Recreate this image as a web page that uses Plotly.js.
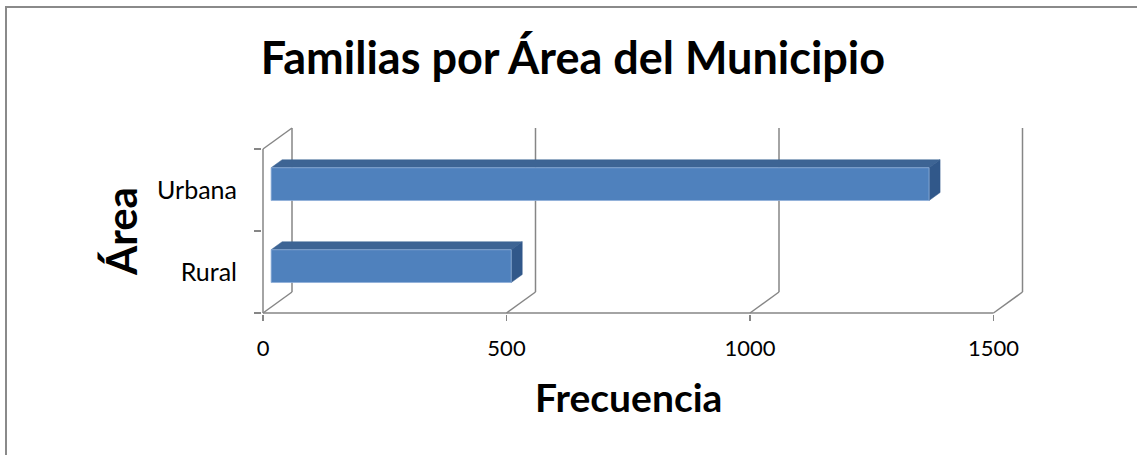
<!DOCTYPE html>
<html>
<head>
<meta charset="utf-8">
<script src="https://cdn.plot.ly/plotly-3.0.1.min.js"></script>
<style>
  html, body { margin: 0; padding: 0; background: #fff; }
  #wrap { position: relative; width: 1137px; height: 455px; overflow: hidden; }
  #chart { position: absolute; left: 0; top: 0; width: 1137px; height: 455px; }
  #bl { position: absolute; left: 5px; top: 6px; width: 2px; height: 460px; background: #8a8a8a; }
  #bt { position: absolute; left: 5px; top: 6px; width: 1140px; height: 2px; background: #8a8a8a; }
</style>
</head>
<body>
<div id="wrap">
  <div id="chart"></div>
  <div id="bl"></div>
  <div id="bt"></div>
</div>
<script>
// ---- data ----
var categories = ['Rural', 'Urbana'];
var values = [493, 1351];
var xTickValues = [0, 500, 1000, 1500];
var xTickLabels = ['0', '500', '1000', '1500'];
var chartTitle = 'Familias por Área del Municipio';
var xTitle = 'Frecuencia';
var yTitle = 'Área';

// ---- geometry (pixel layout) ----
var W = 1137, H = 455;
var plotL = 262, plotR = 1025, plotT = 125, plotB = 314;
var x0px = 263, x1500px = 993.5;
var s = (x1500px - x0px) / 1500;
var catPx = 82;
var floorPx = 313;
var depthDxPx = 29, depthDyPx = 21;
var dX = depthDxPx / s, dY = depthDyPx / catPx;
var yMin = -0.5 - (plotB - floorPx) / catPx;
var yMax = -0.5 + (floorPx - plotT) / catPx;
var xMin = -(x0px - plotL) / s;
var xMax = (plotR - x0px) / s;
var half = 0.2;
var f1 = 0.28, f2 = 0.66;

var grid = '#868686';
var traces = [];
function seg(xs, ys) {
  traces.push({type: 'scatter', mode: 'lines', x: xs, y: ys, hoverinfo: 'skip',
    line: {color: grid, width: 1.5}, showlegend: false});
}
var wallTop = categories.length - 0.5, wallBot = -0.5;
seg([0, 0], [wallBot, wallTop]);
seg([0, dX], [wallTop, wallTop + dY]);
seg([0, dX], [wallBot, wallBot + dY]);
seg([dX, dX], [wallBot + dY, wallTop + dY]);
seg([0, xTickValues[xTickValues.length - 1]], [wallBot, wallBot]);
xTickValues.slice(1).forEach(function (v) {
  seg([v + dX, v + dX], [wallBot + dY, wallTop + dY]);
  seg([v, v + dX], [wallBot, wallBot + dY]);
});

function poly(xs, ys, color, lineColor, lw) {
  traces.push({type: 'scatter', mode: 'lines', x: xs, y: ys, fill: 'toself',
    fillcolor: color, line: {color: lineColor, width: lw}, hoverinfo: 'skip', showlegend: false});
}
categories.forEach(function (c, i) {
  var v = values[i];
  var ax1 = f1 * dX, ay1 = f1 * dY, ax2 = f2 * dX, ay2 = f2 * dY;
  var yb = i - half, yt = i + half;
  poly([ax1, v + ax1, v + ax2, ax2, ax1],
       [yt + ay1, yt + ay1, yt + ay2, yt + ay2, yt + ay1], '#3D6494', '#3D6494', 0.5);
  poly([v + ax1, v + ax2, v + ax2, v + ax1, v + ax1],
       [yb + ay1, yb + ay2, yt + ay2, yt + ay1, yb + ay1], '#31588A', '#31588A', 0.5);
  poly([ax1, v + ax1, v + ax1, ax1, ax1],
       [yb + ay1, yb + ay1, yt + ay1, yt + ay1, yb + ay1], '#4F81BD', '#8EAFD8', 0.8);
});

function pxX(x) { return (x - plotL) / (plotR - plotL); }
function pxY(y) { return (plotB - y) / (plotB - plotT); }

var font = 'Lato, "Open Sans", sans-serif';
var layout = {
  width: W, height: H,
  margin: {l: plotL, r: W - plotR, t: plotT, b: H - plotB, pad: 0},
  paper_bgcolor: 'rgba(0,0,0,0)', plot_bgcolor: 'rgba(0,0,0,0)',
  showlegend: false,
  title: {text: '<b>' + chartTitle + '</b>', xref: 'container', yref: 'container',
    x: 573 / W, y: 1 - 58 / H, xanchor: 'center', yanchor: 'middle',
    font: {family: font, size: 45, color: '#000'}},
  xaxis: {range: [xMin, xMax], showgrid: false, zeroline: false, showline: false,
    tickmode: 'array', tickvals: xTickValues, ticktext: xTickLabels,
    ticks: 'outside', ticklen: 6, tickwidth: 1.5, tickcolor: grid, ticklabelstandoff: 9,
    tickfont: {family: font, size: 22, color: '#000'}, fixedrange: true},
  yaxis: {range: [yMin, yMax], showgrid: false, zeroline: false, showline: false,
    tickmode: 'array', tickvals: categories.map(function (c, i) { return i; }), ticktext: categories,
    ticks: '', ticklabelstandoff: 24,
    minor: {tickmode: 'array', tickvals: [-0.5, 0.5, 1.5], ticks: 'outside', ticklen: 7, tickwidth: 1.5, tickcolor: grid},
    tickfont: {family: font, size: 25, color: '#000'}, fixedrange: true},
  annotations: [
    {text: '<b>' + xTitle + '</b>', xref: 'paper', yref: 'paper', x: pxX(628.5), y: pxY(397),
      xanchor: 'center', yanchor: 'middle', showarrow: false, font: {family: font, size: 39, color: '#000'}},
    {text: '<b>' + yTitle + '</b>', xref: 'paper', yref: 'paper', x: pxX(121), y: pxY(232),
      xanchor: 'center', yanchor: 'middle', textangle: -90, showarrow: false, font: {family: font, size: 42, color: '#000'}}
  ]
};
Plotly.newPlot('chart', traces, layout, {staticPlot: true, displayModeBar: false});
</script>
</body>
</html>
